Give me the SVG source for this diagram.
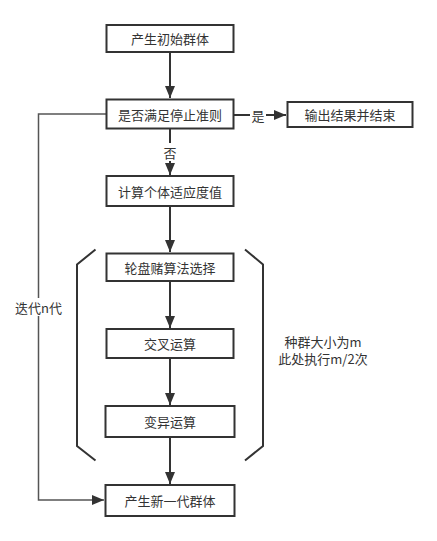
<svg xmlns="http://www.w3.org/2000/svg" width="437" height="541" viewBox="0 0 437 541">
<defs>
<marker id="ah" viewBox="0 0 12 10" refX="12" refY="5" markerWidth="12" markerHeight="10" markerUnits="userSpaceOnUse" orient="auto">
<path d="M0,0 L12,5 L0,10 z" fill="#333"/>
</marker>
<style>
.box{fill:#fff;stroke:#333;stroke-width:2}
.t{font-family:"Noto Sans CJK SC","Liberation Sans",sans-serif;font-size:13px;fill:#333;text-anchor:middle;dominant-baseline:central}
.c{fill:none;stroke:#333;stroke-width:2}
.c2{fill:none;stroke:#555;stroke-width:1.5}
.lbl{fill:#fff}
</style>
</defs>
<rect width="437" height="541" fill="#fff"/>
<g id="connectors">
<path class="c" d="M170,52 V98" marker-end="url(#ah)"/>
<path class="c" d="M234,115 H286" marker-end="url(#ah)"/>
<path class="c" d="M170,129 V175" marker-end="url(#ah)"/>
<path class="c" d="M170,206 V252" marker-end="url(#ah)"/>
<path class="c" d="M170,281 V328" marker-end="url(#ah)"/>
<path class="c" d="M170,358 V405" marker-end="url(#ah)"/>
<path class="c" d="M170,437 V484" marker-end="url(#ah)"/>
<path class="c2" d="M106,114 H38.5 V500 H104" marker-end="url(#ah)"/>
<rect class="lbl" x="250" y="106" width="16" height="18"/>
<text class="t" x="258" y="115">是</text>
<rect class="lbl" x="162" y="143" width="16" height="18"/>
<text class="t" x="170" y="152">否</text>
<rect class="lbl" x="14" y="298" width="49" height="18"/>
<text class="t" x="38.5" y="307">迭代n代</text>
</g>
<g id="bracket-left"><path class="c" d="M95.5,249.5 L77,264.5 V446 L95.5,460.5"/></g>
<g id="bracket-right"><path class="c" d="M245,249.5 L263,264.5 V446 L245,460.5"/></g>
<g id="n1"><rect class="box" x="106.5" y="25" width="127" height="27"/><text class="t" x="170" y="38.5">产生初始群体</text></g>
<g id="n2"><rect class="box" x="106.5" y="99.5" width="127" height="29"/><text class="t" x="170" y="114">是否满足停止准则</text></g>
<g id="n3"><rect class="box" x="287.5" y="102" width="125" height="25"/><text class="t" x="350" y="114.5">输出结果并结束</text></g>
<g id="n4"><rect class="box" x="106.5" y="176" width="127" height="30"/><text class="t" x="170" y="191">计算个体适应度值</text></g>
<g id="n5"><rect class="box" x="106.5" y="253.5" width="127" height="27.5"/><text class="t" x="170" y="267">轮盘赌算法选择</text></g>
<g id="n6"><rect class="box" x="106.5" y="329" width="127" height="29"/><text class="t" x="170" y="343.5">交叉运算</text></g>
<g id="n7"><rect class="box" x="105.5" y="406" width="129" height="31"/><text class="t" x="170" y="421.5">变异运算</text></g>
<g id="n8"><rect class="box" x="105.5" y="485" width="129" height="31"/><text class="t" x="170" y="500.5">产生新一代群体</text></g>
<g id="note"><text class="t" x="323" y="341">种群大小为m</text><text class="t" x="323" y="358.5">此处执行m/2次</text></g>
</svg>
